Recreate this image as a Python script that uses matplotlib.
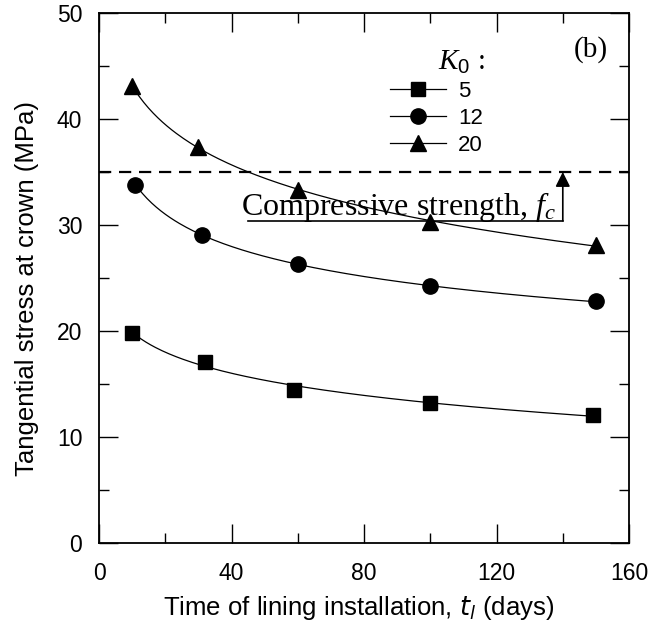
import numpy as np
import matplotlib
matplotlib.use("Agg")
import matplotlib.pyplot as plt
from matplotlib.lines import Line2D
from matplotlib.ticker import MultipleLocator

# ---------------- data ----------------
k0_labels = ["5", "12", "20"]
t_k5 = [10, 32, 59, 100, 149]
v_k5 = [19.8, 17.1, 14.4, 13.2, 12.1]
t_k12 = [11, 31, 60, 100, 150]
v_k12 = [33.8, 29.1, 26.3, 24.2, 22.8]
t_k20 = [10, 30, 60, 100, 150]
v_k20 = [43.1, 37.4, 33.3, 30.3, 28.1]
fc_strength = 35.0
x_ticks = [0, 40, 80, 120, 160]
y_ticks = [0, 10, 20, 30, 40, 50]

plt.rcParams["font.family"] = ["Liberation Sans", "DejaVu Sans"]
plt.rcParams["mathtext.fontset"] = "custom"
plt.rcParams["mathtext.rm"] = "Liberation Sans"
plt.rcParams["mathtext.it"] = "Liberation Serif:italic"

fig = plt.figure(figsize=(6.58, 6.44), dpi=100)
ax = fig.add_axes([0.1505, 0.1568, 0.8055, 0.8230])

series = [(t_k5, v_k5, "s", 9.5), (t_k12, v_k12, "o", 11), (t_k20, v_k20, "^", 11)]
handles = []
for (t, v, m, ms), lab in zip(series, k0_labels):
    t = np.asarray(t, float)
    v = np.asarray(v, float)
    # smooth trend line fitted to the data points
    coef = np.polyfit(np.log(t), v, 2)
    tt = np.linspace(t.min(), t.max(), 200)
    ax.plot(tt, np.polyval(coef, np.log(tt)), color="k", lw=0.9)
    ax.plot(t, v, linestyle="none", marker=m, ms=ms, color="k")
    handles.append(Line2D([], [], color="k", lw=0.9, marker=m, ms=ms))

# compressive strength line
ax.axhline(fc_strength, color="k", lw=1.6, linestyle=(0, (5.5, 3.5)))
ax.plot([45, 140], [30.4, 30.4], color="k", lw=1.2)
ax.annotate("", xy=(140, fc_strength), xytext=(140, 30.4),
            arrowprops=dict(arrowstyle="-|>", color="k", lw=1.2,
                            mutation_scale=22, shrinkA=0, shrinkB=0))
ax.text(43, 30.9, r"Compressive strength, $f_c$", family="Liberation Serif",
        fontsize=23, ha="left", va="baseline")

ax.text(148.4, 46.6, "(b)", family="Liberation Serif", fontsize=21,
        ha="center", va="center")
ax.text(102.3, 44.6, r"$K_\mathrm{0}$ :", family="Liberation Serif",
        fontsize=21, ha="left", va="baseline")

leg = ax.legend(handles, k0_labels, loc="upper left",
                bbox_to_anchor=(0.549, 0.8726), frameon=False, fontsize=16,
                handlelength=2.5, handletextpad=0.55, labelspacing=0.28,
                borderpad=0, borderaxespad=0, numpoints=1)

ax.set_xlim(0, 160)
ax.set_ylim(0, 50)
ax.set_xticks(x_ticks)
ax.set_yticks(y_ticks)
ax.xaxis.set_minor_locator(MultipleLocator(20))
ax.yaxis.set_minor_locator(MultipleLocator(5))
ax.tick_params(which="both", direction="in", top=True, right=True, width=1.0,
               labelsize=16.5, color="k")
ax.tick_params(which="major", length=13.7)
ax.tick_params(which="minor", length=7.2)
ax.tick_params(axis="x", which="major", pad=14)
ax.tick_params(axis="y", which="major", pad=12)
for s in ax.spines.values():
    s.set_linewidth(1.3)

ax.set_xlabel("Time of lining installation, $t_l$ (days)", fontsize=18.5,
              math_fontfamily="dejavusans")
ax.xaxis.set_label_coords(0.49, -0.097)
ax.set_ylabel("Tangential stress at crown (MPa)", fontsize=18.5)
ax.yaxis.set_label_coords(-0.113, 0.48)

fig.savefig("out.png", dpi=100)
